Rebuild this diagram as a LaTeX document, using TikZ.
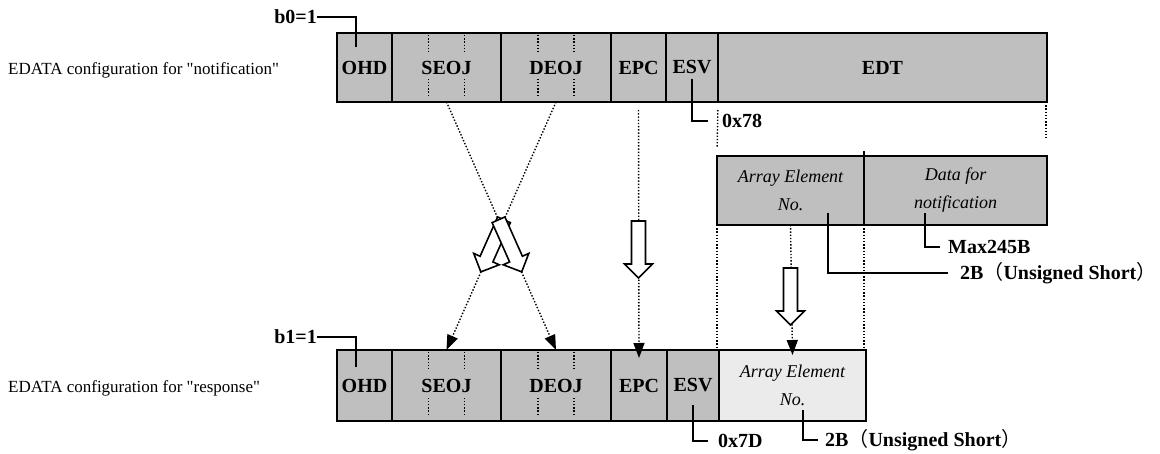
\documentclass[tikz,border=0pt]{standalone}
\usepackage{fontspec}
\setmainfont{Liberation Serif}
\newfontfamily\rowfont{Liberation Serif}[Ligatures=ResetAll]
\newfontfamily\cjk{Noto Sans CJK JP}
\usetikzlibrary{positioning,arrows.meta,calc}

\tikzset{
  cell/.style={draw, line width=1.4pt, fill=black!25, inner sep=0pt, outer sep=0pt,
    minimum height=69pt, font=\fontsize{20}{24}\selectfont\bfseries},
  rcell/.style={cell, minimum height=71pt},
  icell/.style={cell, font=\fontsize{18}{28}\selectfont\itshape, align=center},
  frame/.style={draw, line width=2.2pt},
  rowlabel/.style={inner sep=0pt, font=\fontsize{17}{20}\selectfont\rowfont},
  val/.style={inner sep=0pt, font=\fontsize{20}{24}\selectfont\bfseries},
  leader/.style={line width=1.1pt},
  dotline/.style={line width=1.4pt, dash pattern=on 1.4pt off 1.8pt},
  tip/.style={-{Triangle[width=11pt,length=15pt]}},
  hollow/.pic={
    \draw[line width=1.6pt, fill=white] (-7,0) -- (-7,43) -- (-14,43) -- (0,57)
      -- (14,43) -- (7,43) -- (7,0) -- cycle;
  }
}

\begin{document}
\begin{tikzpicture}[x=1pt,y=-1pt]
  \useasboundingbox (0,0) rectangle (1160,454);

  % notification frame
  \node[rowlabel, anchor=west] (notifL) at (8,70) {EDATA configuration for "notification"};
  \node[cell, minimum width=55pt, anchor=north west] (ohdN) at (337,33) {OHD};
  \node[cell, minimum width=109pt, right=0pt of ohdN] (seojN) {SEOJ};
  \node[cell, minimum width=110pt, right=0pt of seojN] (deojN) {DEOJ};
  \node[cell, minimum width=55pt, right=0pt of deojN] (epcN) {EPC};
  \node[cell, minimum width=52pt, right=0pt of epcN] (esvN) {ESV};
  \node[cell, minimum width=329pt, right=0pt of esvN] (edtN) {EDT};
  \draw[frame] (ohdN.north west) rectangle (edtN.south east);

  % EDT contents
  \node[icell, minimum width=147pt, anchor=north west] (arrN) at (717,156) {Array Element\\No.};
  \node[icell, minimum width=183pt, right=0pt of arrN] (dataN) {Data for\\notification};
  \draw[line width=1.4pt] ([yshift=5pt]arrN.north east) -- ([yshift=3pt]arrN.south east);
  \draw[frame] (arrN.north west) rectangle (dataN.south east);

  % response frame
  \node[rowlabel, anchor=west] (respL) at (8,388) {EDATA configuration for "response"};
  \node[rcell, minimum width=55pt, anchor=north west] (ohdR) at (337,350) {OHD};
  \node[rcell, minimum width=109pt, right=0pt of ohdR] (seojR) {SEOJ};
  \node[rcell, minimum width=110pt, right=0pt of seojR] (deojR) {DEOJ};
  \node[rcell, minimum width=56pt, right=0pt of deojR] (epcR) {EPC};
  \node[rcell, minimum width=52pt, right=0pt of epcR] (esvR) {ESV};
  \draw[frame] (ohdR.north west) rectangle (esvR.south east);
  \node[icell, rcell, fill=black!8, minimum width=147pt, right=0pt of esvR,
    font=\fontsize{18}{28}\selectfont\itshape] (arrR) {Array Element\\No.};
  \draw[frame] (arrR.north west) rectangle (arrR.south east);

  % byte marks inside SEOJ / DEOJ
  \foreach \c in {seojN,deojN,seojR,deojR}
    \foreach \s in {-18,18}
    {
      \draw[dotline] ([xshift=\s pt]\c.north) ++(0,2) -- ++(0,18);
      \draw[dotline] ([xshift=\s pt]\c.south) ++(0,-6) -- ++(0,-18);
    }

  % guides from EDT
  \draw[dotline, shorten <=8pt, shorten >=9pt] (edtN.south west) -- (arrN.north west);
  \draw[dotline, shorten >=18pt] ([xshift=-1pt]edtN.south east) -- ([xshift=-1pt]dataN.north east);
  \draw[dotline] (arrN.south west) -- (arrN.south west |- arrR.north);
  \draw[dotline] (arrN.south east) -- (arrN.south east |- arrR.north);

  % leaders
  \node[val, anchor=east] (b0) at (317,17) {b0=1};
  \coordinate (b0end) at (356,47);
  \draw[leader] (b0.east) -| (b0end);
  \node[val, anchor=east] (b1) at (317,337) {b1=1};
  \coordinate (b1end) at (356,367);
  \draw[leader] (b1.east) -| (b1end);

  \node[val, anchor=west] (x78) at (722,121) {0x78};
  \draw[leader, shorten >=14pt] ([yshift=-12pt]esvN.center) |- (x78.west);
  \node[val, anchor=west] (x7D) at (718,441) {0x7D};
  \draw[leader, shorten >=10pt] ([yshift=-20pt]esvR.center) |- (x7D.west);

  \node[val, anchor=west] (maxB) at (948,247) {Max245B};
  \coordinate (dataEnd) at (925,213);
  \draw[leader, shorten >=8pt] (dataEnd) |- (maxB.west);
  \node[val, anchor=west] (sizeN) at (960,273) {2B{\mdseries\cjk （}Unsigned Short{\mdseries\cjk ）}};
  \coordinate (arrEnd) at (828,213);
  \draw[leader, shorten >=12pt] (arrEnd) |- (sizeN.west);
  \node[val, anchor=west] (sizeR) at (825,440) {2B{\mdseries\cjk （}Unsigned Short{\mdseries\cjk ）}};
  \coordinate (arrREnd) at (803,410);
  \draw[leader, shorten >=7pt] (arrREnd) |- (sizeR.west);

  % mapping notification -> response
  \draw[dotline, tip] (seojN.south) -- (deojR.north);
  \draw[dotline, tip] (deojN.south) -- (seojR.north);
  \pic[rotate=-24] at ($(deojN.south)!0.475!(seojR.north)$) {hollow};
  \pic[rotate=24] at ($(seojN.south)!0.475!(deojR.north)$) {hollow};

  \draw[dotline, tip, shorten <=8pt] (epcN.south) -- ([yshift=-8pt]epcR.north);
  \pic at ([yshift=-119pt]epcN.south) {hollow};

  \draw[dotline, tip] (arrN.south) -- ([yshift=-5pt]arrR.north);
  \pic at ([yshift=-43pt]arrN.south) {hollow};
\end{tikzpicture}
\end{document}
